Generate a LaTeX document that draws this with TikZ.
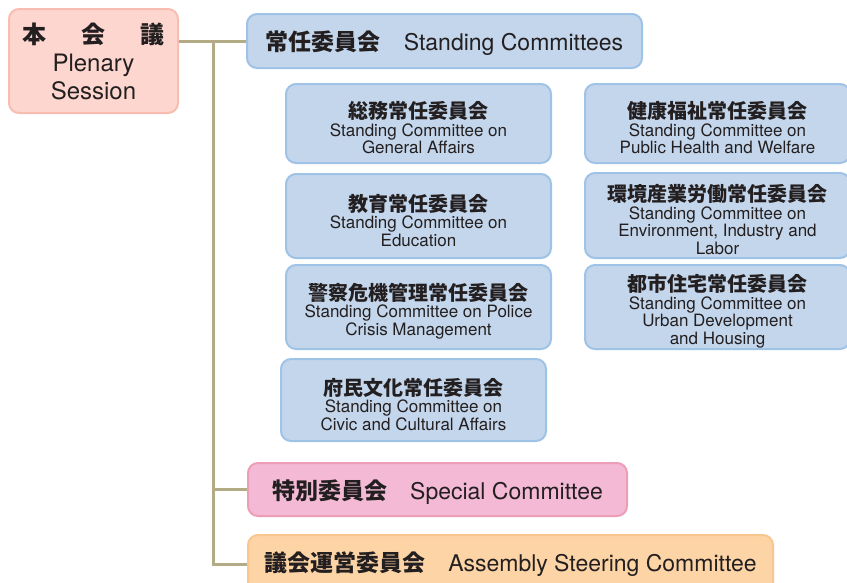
\documentclass[tikz,border=0pt]{standalone}
\usepackage{fontspec}
\setmainfont{TeX Gyre Heros}
\newfontfamily\jp{Noto Sans CJK JP}
\usetikzlibrary{positioning}
\definecolor{inkgray}{HTML}{231F20}
\definecolor{plenfill}{HTML}{FDD7CF}
\definecolor{plenline}{HTML}{F8BDB0}
\definecolor{bluefill}{HTML}{C4D6EB}
\definecolor{blueline}{HTML}{9FC2E7}
\definecolor{pinkfill}{HTML}{F3B9D5}
\definecolor{pinkline}{HTML}{EE9DB7}
\definecolor{orangefill}{HTML}{FDD4A6}
\definecolor{orangeline}{HTML}{F9C690}
\definecolor{linkcolor}{HTML}{B3AA86}
\tikzset{%
    box/.style={%
        draw, line width=2pt, rounded corners=10pt, text=inkgray,
        align=center, inner sep=0pt
    },
    plenarybox/.style={%
        box, fill=plenfill, draw=plenline, minimum width=169pt,
        minimum height=104pt, font=\fontsize{24}{28}\selectfont
    },
    headbox/.style={%
        box, fill=bluefill, draw=blueline, minimum height=54pt,
        font=\fontsize{23}{26}\selectfont
    },
    cmtbox/.style={%
        box, fill=bluefill, draw=blueline, minimum width=265pt,
        font=\fontsize{17}{17.5}\selectfont
    },
    link/.style={%
        draw=linkcolor, line width=3pt
    }
}
\newcommand{\jpname}[1]{{\jp\bfseries\fontsize{20}{21}\selectfont\rule{0pt}{25.5pt}#1}}
\newcommand{\jphead}[1]{{\jp\bfseries #1}}
\newcommand{\jpbar}[1]{{\jp\bfseries\rule{0pt}{24pt}#1}}

\begin{document}
\begin{tikzpicture}[x=1pt, y=-1pt]
    \useasboundingbox (0,0) rectangle (847,582);

    \node[plenarybox] (plenary) at (93.5,61)
        {\jphead{本\hspace{1.45em}会\hspace{1.45em}議}\\Plenary\\Session};
    \node[headbox, minimum width=395pt] (standing) at (444.5,41)
        {\jpbar{常任委員会}\quad Standing Committees};

    % left column
    \node[cmtbox, minimum height=79pt] (general) at (418.5,123.5)
        {\jpname{総務常任委員会}\\Standing Committee on\\General Affairs};
    \node[cmtbox, minimum height=84pt] (education) at (418.5,216)
        {\jpname{教育常任委員会}\\Standing Committee on\\Education};
    \node[cmtbox, minimum height=84pt] (police) at (418.5,307)
        {\jpname{警察危機管理常任委員会}\\Standing Committee on Police\\Crisis Management};
    \node[cmtbox, minimum height=82pt] (civic) at (413.5,400)
        {\jpname{府民文化常任委員会}\\Standing Committee on\\Civic and Cultural Affairs};

    % right column
    \node[cmtbox, minimum height=79pt] (health) at (717.5,123.5)
        {\jpname{健康福祉常任委員会}\\Standing Committee on\\Public Health and Welfare};
    \node[cmtbox, minimum height=85pt] (environment) at (717.5,215.5)
        {\jpname{環境産業労働常任委員会}\\Standing Committee on\\Environment, Industry and\\Labor};
    \node[cmtbox, minimum height=84pt] (urban) at (717.5,307)
        {\jpname{都市住宅常任委員会}\\Standing Committee on\\Urban Development\\and Housing};

    \node[headbox, fill=pinkfill, draw=pinkline, minimum width=379pt,
        minimum height=53pt] (special) at (437.5,489.5)
        {\jpbar{特別委員会}\quad Special Committee};
    \node[headbox, fill=orangefill, draw=orangeline, minimum width=525pt,
        minimum height=58pt] (steering) at (510.5,564)
        {\jphead{議会運営委員会}\quad Assembly Steering Committee};

    \coordinate (trunk) at (213,41);
    \draw[link] (standing.west -| plenary.east) -- (standing.west);
    \draw[link] (trunk) |- (special.west);
    \draw[link] (trunk) |- (steering.west);
\end{tikzpicture}
\end{document}
